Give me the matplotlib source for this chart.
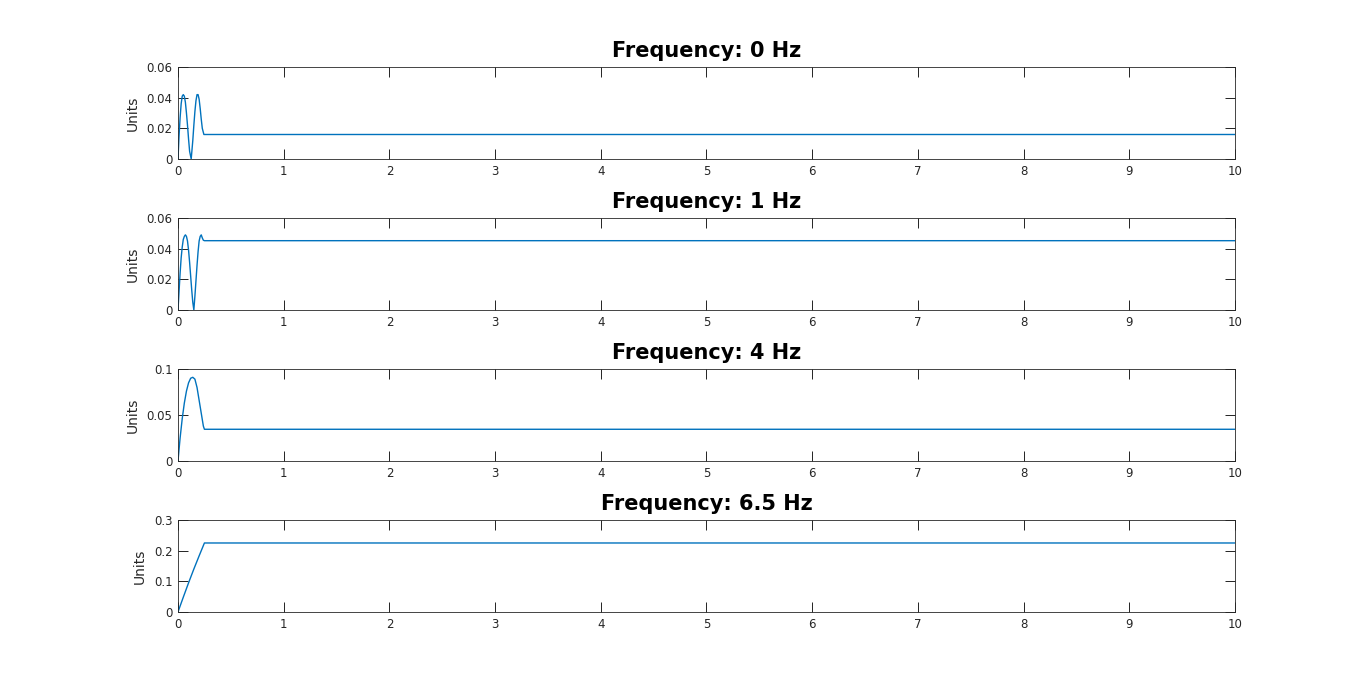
import numpy as np
from matplotlib import pyplot as plt

# frequencies shown in each panel
freqs = ["0", "1", "4", "6.5"]

# time / magnitude, one pair per panel
t_0hz = [0, 0.01, 0.02, 0.03, 0.04, 0.05, 0.06, 0.07, 0.08, 0.09, 0.10, 0.11, 0.125,
         0.14, 0.15, 0.16, 0.17, 0.18, 0.19, 0.20, 0.21, 0.22, 0.23, 0.245, 10]
v_0hz = [0, 0.015, 0.027, 0.036, 0.041, 0.042, 0.041, 0.037, 0.030, 0.022, 0.013, 0.005, 0,
         0.012, 0.022, 0.031, 0.038, 0.042, 0.042, 0.039, 0.033, 0.026, 0.020, 0.016, 0.016]

t_1hz = [0, 0.01, 0.02, 0.03, 0.04, 0.05, 0.06, 0.07, 0.08, 0.09, 0.10, 0.11, 0.12, 0.13,
         0.14, 0.15, 0.16, 0.17, 0.18, 0.19, 0.20, 0.21, 0.22, 0.23, 0.24, 0.25, 10]
v_1hz = [0, 0.012, 0.024, 0.034, 0.041, 0.046, 0.048, 0.049, 0.048, 0.045, 0.039, 0.031, 0.022, 0.013,
         0.005, 0, 0.009, 0.019, 0.029, 0.038, 0.045, 0.048, 0.049, 0.047, 0.0455, 0.0452, 0.0452]

t_4hz = [0, 0.02, 0.04, 0.06, 0.08, 0.10, 0.12, 0.14, 0.16, 0.18, 0.20, 0.22, 0.24, 0.25, 10]
v_4hz = [0, 0.025, 0.046, 0.063, 0.076, 0.085, 0.090, 0.091, 0.089, 0.080, 0.066, 0.052, 0.038, 0.0345, 0.0345]

t_65hz = [0, 0.05, 0.10, 0.15, 0.20, 0.25, 10]
v_65hz = [0, 0.048, 0.095, 0.140, 0.183, 0.225, 0.225]

times = [t_0hz, t_1hz, t_4hz, t_65hz]
values = [v_0hz, v_1hz, v_4hz, v_65hz]
y_ticks = [[0, 0.02, 0.04, 0.06], [0, 0.02, 0.04, 0.06], [0, 0.05, 0.1], [0, 0.1, 0.2, 0.3]]
y_labels = [["0", "0.02", "0.04", "0.06"], ["0", "0.02", "0.04", "0.06"],
            ["0", "0.05", "0.1"], ["0", "0.1", "0.2", "0.3"]]

fig = plt.figure(figsize=(13.66, 6.89), dpi=100)

bottoms = [0.7692, 0.5501, 0.3309, 0.1118]
for i in range(4):
    ax = fig.add_axes([0.1303, bottoms[i], 0.7738, 0.1335])
    ax.plot(times[i], values[i], color="#0072BD", linewidth=1)
    ax.set_xlim(0, 10)
    ax.set_ylim(y_ticks[i][0], y_ticks[i][-1])
    ax.set_xticks(range(11))
    ax.set_xticklabels([str(k) for k in range(11)], fontsize=8.5, color="#262626")
    ax.set_yticks(y_ticks[i])
    ax.set_yticklabels(y_labels[i], fontsize=8.5, color="#262626")
    ax.tick_params(direction="in", top=True, right=True, length=7, width=0.6, pad=4)
    for s in ax.spines.values():
        s.set_linewidth(0.6)
        s.set_color("#262626")
    ax.set_ylabel("Units", fontsize=10, color="#262626", labelpad=5)
    ax.set_title("Frequency: " + freqs[i] + " Hz", fontsize=15, fontweight="bold", pad=7.5)

fig.savefig("out.png", dpi=100, facecolor="white")
